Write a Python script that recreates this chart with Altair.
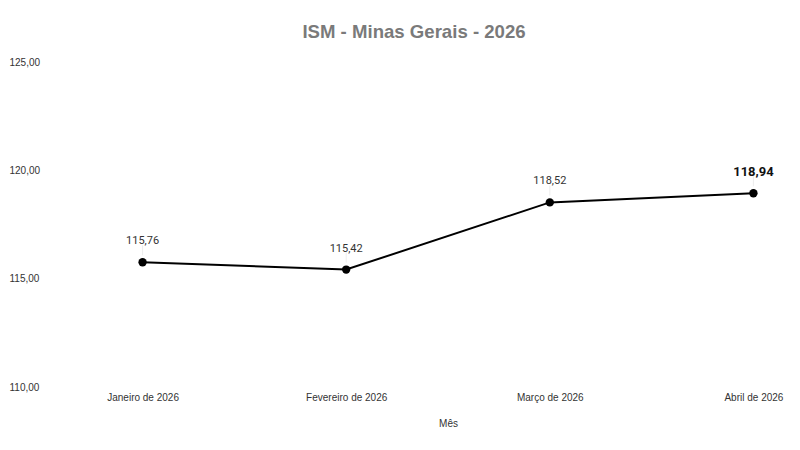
import altair as alt
import pandas as pd

months = ["Janeiro de 2026", "Fevereiro de 2026", "Março de 2026", "Abril de 2026"]
values = [115.76, 115.42, 118.52, 118.94]
y_ticks = [110, 115, 120, 125]

df = pd.DataFrame({"mes": months, "ism": values})
df["last"] = [False, False, False, True]

x_enc = alt.X(
    "mes:N",
    title="Mês",
    sort=months,
    scale=alt.Scale(type="point", padding=0.16),
    axis=alt.Axis(
        labelAngle=0,
        grid=False, domain=False, ticks=False, tickSize=0,
        labelPadding=5, labelFontSize=10, labelColor="#333333",
        labelFont="Liberation Sans", titleFont="Liberation Sans",
        titleFontSize=10, titleFontWeight="normal", titleColor="#333333",
        titlePadding=16,
    ),
)
y_enc = alt.Y(
    "ism:Q",
    title=None,
    scale=alt.Scale(domain=[110, 125], nice=False, zero=False),
    axis=alt.Axis(
        values=y_ticks,
        labelExpr="replace(format(datum.value, '.2f'), '.', ',')",
        grid=False, domain=False, ticks=False, tickSize=0,
        labelAlign="left", labelPadding=101, labelFontSize=10,
        labelColor="#333333", labelFont="Liberation Sans",
    ),
)

base = alt.Chart(df).encode(x=x_enc, y=y_enc)

line = base.mark_line(color="#000000", strokeWidth=2)
pts = base.mark_circle(color="#000000", size=70, opacity=1)
conn = base.mark_tick(orient="vertical", size=10, thickness=1, color="#e6e6e6", yOffset=-12)

labels = base.transform_filter("!datum.last").transform_calculate(
    lab="replace(format(datum.ism, '.2f'), '.', ',')"
).mark_text(dy=-21, fontSize=11, color="#333333", font="Roboto").encode(text="lab:N")

last_label = base.transform_filter("datum.last").transform_calculate(
    lab="replace(format(datum.ism, '.2f'), '.', ',')"
).mark_text(dy=-21, fontSize=13, fontWeight="bold", color="#111111", font="Roboto").encode(text="lab:N")

chart = alt.layer(conn, line, pts, labels, last_label).properties(
    width=676,
    height=325,
    background="white",
    title=alt.TitleParams(
        "ISM - Minas Gerais - 2026",
        fontSize=18.6, fontWeight="bold", color="#7a7a7a",
        font="Liberation Sans", anchor="middle", dx=-34, offset=15,
    ),
    autosize=alt.AutoSizeParams(type="none"),
    padding={"left": 102, "top": 54, "right": 6, "bottom": 50},
).configure_view(strokeWidth=0)

chart.save("out.html", embed_options={"renderer": "svg", "actions": False})
